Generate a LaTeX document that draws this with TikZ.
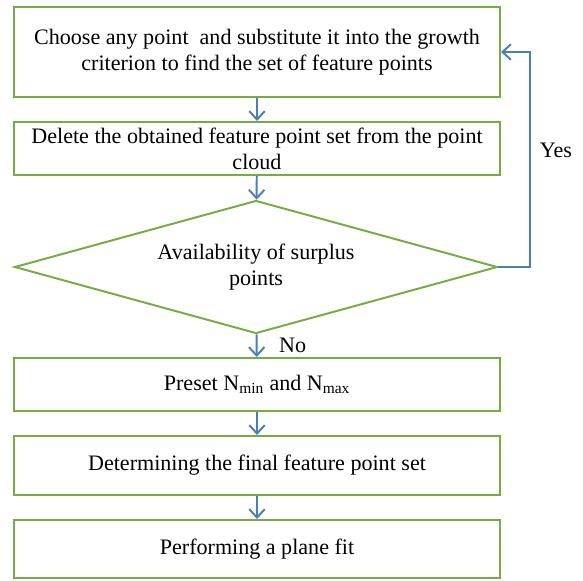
\documentclass[tikz,border=0pt]{standalone}
\usepackage{fontspec}
\setmainfont{Liberation Serif}
\usetikzlibrary{arrows.meta,shapes.geometric}

\definecolor{boxgreen}{HTML}{77AC43}
\definecolor{flowblue}{HTML}{4A7EBB}

\tikzset{
  stepbox/.style={draw=boxgreen, line width=1.4pt, minimum width=486*0.025cm, align=center,
    font=\fontsize{15.7}{18.4}\selectfont},
  check/.style={draw=boxgreen, line width=1.4pt, shape=diamond, shape aspect=3.63,
    minimum width=483*0.025cm, minimum height=133*0.025cm, inner sep=0pt, align=center,
    font=\fontsize{15.7}{18.4}\selectfont},
  flow/.style={draw=flowblue, line width=1.4pt, -{Straight Barb[length=6pt,width=11pt,line width=1.4pt]}},
  lbl/.style={font=\fontsize{15.7}{18.4}\selectfont}
}

\begin{document}
\begin{tikzpicture}[x=0.025cm, y=-0.025cm]

\useasboundingbox (0,0) rectangle (583,580);

\node[stepbox, minimum height=90*0.025cm] (choose) at (257,52)
  {Choose any point\ \ and substitute it into the growth\\ criterion to find the set of feature points};
\node[stepbox, minimum height=53*0.025cm] (delete) at (257,148.5)
  {Delete the obtained feature point set from the point\\ cloud};
\node[check] (surplus) at (256,267) {Availability of surplus\\ points};
\node[stepbox, minimum height=53*0.025cm] (preset) at (257,384.5)
  {Preset N\textsubscript{min} and N\textsubscript{max}};
\node[stepbox, minimum height=59*0.025cm] (final) at (257,465.5)
  {Determining the final feature point set};
\node[stepbox, minimum height=58*0.025cm] (fit) at (257,549)
  {Performing a plane fit};

\draw[flow] (choose) -- (delete);
\draw[flow] (delete) -- (surplus);
\draw[flow] (surplus) -- node[lbl, right, xshift=12pt] (no) {No} (preset);
\draw[flow] (preset) -- (final);
\draw[flow] (final) -- (fit);

% loop back
\coordinate (turn) at (530,267);
\draw[flow] (surplus.east) -- (turn) |- (choose.east);
\node[lbl] (yes) at (556,150) {Yes};

\end{tikzpicture}
\end{document}
